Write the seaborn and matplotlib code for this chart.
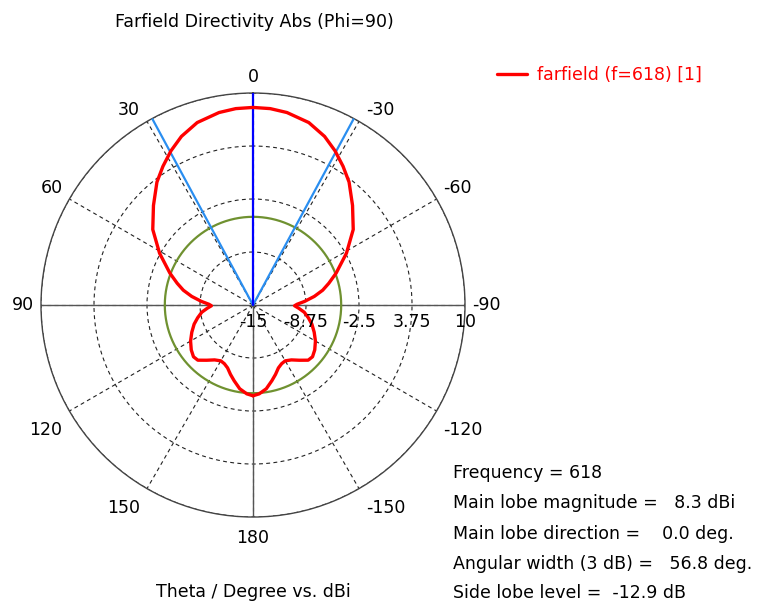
import numpy as np
import pandas as pd
import matplotlib
matplotlib.use("Agg")
import matplotlib.pyplot as plt
import seaborn as sns
from matplotlib.transforms import offset_copy

# ---- data ----
theta_half_deg = [0, 5, 10, 17, 23, 28, 33, 38, 45, 53, 61, 69, 74, 78, 82, 86, 89, 91,
                  94, 98, 103, 108, 114, 120, 126, 131, 135, 140, 145, 150, 154, 158,
                  162, 166, 171, 176, 180]
dbi_half = [8.3, 8.25, 8.05, 7.5, 6.6, 5.6, 4.5, 3.4, 1.6, -0.2, -2.4, -4.5, -5.7, -6.6,
            -7.7, -8.9, -9.8, -10.1, -9.6, -8.9, -8.3, -7.7, -7.1, -6.5, -6.0, -5.7,
            -5.8, -6.5, -7.1, -7.4, -7.3, -7.0, -6.4, -5.8, -5.0, -4.5, -4.3]

main_lobe_mag = 8.3
main_lobe_dir = 0.0
angular_width = 56.8
side_lobe_level = -12.9
frequency = 618

r_ticks = [-15, -8.75, -2.5, 3.75, 10]
r_tick_labels = ["-15", "-8.75", "-2.5", "3.75", "10"]
theta_ticks_deg = [0, 30, 60, 90, 120, 150, 180, 210, 240, 270, 300, 330]
theta_tick_labels = ["0", "30", "60", "90", "120", "150", "180",
                     "-150", "-120", "-90", "-60", "-30"]

# full curve: +180 .. 0 .. -180 (mirrored pattern)
theta_full_deg = [-t for t in theta_half_deg[::-1]] + theta_half_deg[1:]
dbi_full = dbi_half[::-1] + dbi_half[1:]
df = pd.DataFrame({"theta": np.deg2rad(theta_full_deg), "dbi": dbi_full})

sns.set_style("white")
plt.rcParams["font.family"] = ["DejaVu Sans"]
plt.rcParams["text.color"] = "black"
plt.rcParams["xtick.color"] = "black"
plt.rcParams["ytick.color"] = "black"
FS = 12.5

fig = plt.figure(figsize=(7.69, 6.04), dpi=100)
ax = fig.add_axes([0.0533, 0.144, 0.5514, 0.702], projection="polar")
ax.set_theta_zero_location("N")
ax.set_theta_direction(1)
ax.set_rlim(r_ticks[0], r_ticks[-1])

# grid
ax.set_xticks(np.deg2rad(theta_ticks_deg))
ax.set_xticklabels([])
ax.set_yticks(r_ticks)
ax.set_yticklabels([])
ax.grid(True, color="#222222", lw=0.8, ls=(0, (3.5, 3)))
ax.spines["polar"].set_color("#444444")
ax.spines["polar"].set_linewidth(1.0)

# angle labels around the circle
for t, lab in zip(theta_ticks_deg, theta_tick_labels):
    phi = np.deg2rad(t)
    sx, sy = -np.sin(phi), np.cos(phi)
    if abs(sx) < 0.1:
        ha, dx = "center", 0
    else:
        ha, dx = ("right", -7) if sx < 0 else ("left", 7)
    if abs(sy) < 0.1:
        va, dy = "center", 0
    elif sy > 0:
        va, dy = "baseline", (11 if abs(sx) < 0.1 else 6)
    else:
        va, dy = "top", (-12 if abs(sx) < 0.1 else -10)
    tr = offset_copy(ax.transData, fig=fig, x=dx, y=dy, units="dots")
    ax.text(phi, r_ticks[-1], lab, transform=tr, ha=ha, va=va, fontsize=FS,
            color="black", clip_on=False)

# solid axes lines
for t in [90, 180, 270]:
    ax.plot([np.deg2rad(t)] * 2, [r_ticks[0], r_ticks[-1]], color="#555555", lw=1.0, zorder=2)

# side lobe level circle
sll_abs = main_lobe_mag + side_lobe_level
circ = np.linspace(0, 2 * np.pi, 361)
ax.plot(circ, np.full_like(circ, sll_abs), color="#6f9130", lw=1.6, zorder=3)

# beam-width lines and main direction
for t in [main_lobe_dir + angular_width / 2, main_lobe_dir - angular_width / 2]:
    ax.plot([np.deg2rad(t)] * 2, [r_ticks[0], r_ticks[-1]], color="#2a8ef0", lw=1.6, zorder=4)
ax.plot([np.deg2rad(main_lobe_dir)] * 2, [r_ticks[0], r_ticks[-1]], color="#0000ff", lw=1.6, zorder=4)

# pattern
sns.lineplot(data=df, x="theta", y="dbi", ax=ax, sort=False, estimator=None,
             color="#ff0000", lw=2.4, zorder=5, label="farfield (f=618) [1]")
ax.set_xlabel("")
ax.set_ylabel("")
ax.set_rlim(r_ticks[0], r_ticks[-1])

# radial labels along the right horizontal axis
trans = offset_copy(ax.transData, fig=fig, x=0, y=-17, units="dots")
for r, lab in zip(r_ticks, r_tick_labels):
    ax.text(np.deg2rad(270), r, lab, transform=trans, ha="center", va="center",
            fontsize=FS, color="black", zorder=6, clip_on=False)

# legend
leg = ax.legend(loc="center left", bbox_to_anchor=(497 / 769, 1 - 75 / 604),
                bbox_transform=fig.transFigure, frameon=False, fontsize=FS,
                handlelength=1.75, handletextpad=0.55, borderpad=0, borderaxespad=0,
                labelcolor="linecolor")

# titles
fig.text(254 / 769, 1 - 22 / 604, "Farfield Directivity Abs (Phi=90)", ha="center",
         va="center", fontsize=FS, color="black")
fig.text(253 / 769, 1 - 592 / 604, "Theta / Degree vs. dBi", ha="center", va="center",
         fontsize=FS, color="black")

info = [f"Frequency = {frequency}",
        f"Main lobe magnitude =   {main_lobe_mag:.1f} dBi",
        f"Main lobe direction =    {main_lobe_dir:.1f} deg.",
        f"Angular width (3 dB) =   {angular_width:.1f} deg.",
        f"Side lobe level =  {side_lobe_level:.1f} dB"]
ys = [473, 503, 534, 564, 593]
for s, y in zip(info, ys):
    fig.text(453 / 769, 1 - y / 604, s, ha="left", va="center", fontsize=FS, color="black")

fig.savefig("out.png", dpi=100)
